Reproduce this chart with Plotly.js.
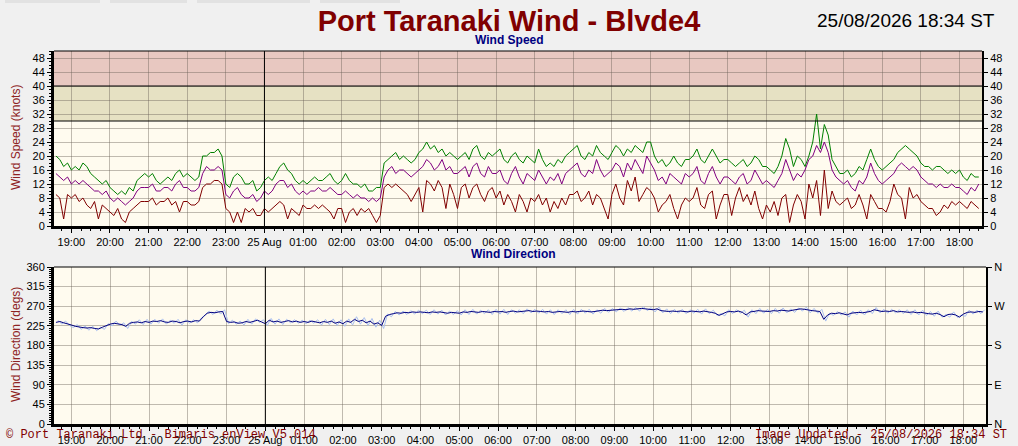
<!DOCTYPE html>
<html>
<head>
<meta charset="utf-8">
<script src="https://cdn.plot.ly/plotly-3.0.1.min.js"></script>
<style>
  html, body { margin: 0; padding: 0; background: #f0f0f0; }
  #chart { width: 1018px; height: 446px; }
</style>
</head>
<body>
<div id="chart"></div>
<script>
// 6 minute samples, 24/08 18:36 .. 25/08 18:30 (one row per hour)
var gust = [
  20, 19, 17, 18,
  16, 17, 16, 18, 17, 15, 14, 13, 12, 13,
  11, 10, 9, 10, 9, 11, 10, 13, 14, 15,
  14, 15, 13, 12, 13, 14, 13, 15, 16, 14,
  15, 14, 13, 14, 20, 20, 21, 21, 22, 20,
  12, 11, 14, 15, 14, 12, 12, 13, 10, 11,
  13, 14, 13, 15, 17, 18, 16, 15, 13, 12,
  13, 12, 13, 14, 13, 13, 14, 15, 13, 12,
  13, 15, 13, 12, 12, 11, 12, 10, 10, 11,
  11, 18, 19, 20, 21, 19, 20, 19, 18, 19,
  21, 22, 24, 22, 23, 21, 22, 20, 21, 20,
  19, 20, 21, 19, 22, 23, 20, 19, 21, 20,
  21, 22, 19, 18, 20, 21, 19, 18, 20, 19,
  18, 22, 19, 17, 18, 17, 19, 18, 20, 21,
  22, 23, 20, 19, 21, 20, 23, 21, 20, 19,
  21, 23, 22, 20, 22, 21, 23, 22, 21, 24,
  24, 20, 18, 19, 17, 18, 20, 18, 17, 19,
  19, 20, 22, 19, 18, 20, 22, 20, 18, 19,
  19, 18, 17, 18, 19, 17, 18, 20, 19, 17,
  17, 16, 15, 17, 20, 25, 22, 17, 20, 19,
  17, 20, 24, 32, 22, 29, 26, 19, 17, 15,
  15, 16, 14, 15, 17, 16, 19, 22, 19, 17,
  16, 17, 18, 19, 21, 22, 23, 22, 21, 20,
  18, 17, 17, 16, 17, 17, 16, 15, 16, 15,
  16, 14, 13, 15, 14, 14
];
var average = [
  15, 14, 13, 14,
  12, 13, 12, 13, 12, 11, 10, 10, 9, 10,
  8, 7, 8, 7, 6, 7, 8, 10, 11, 11,
  11, 12, 10, 10, 11, 11, 10, 12, 13, 11,
  11, 10, 10, 11, 15, 17, 16, 16, 17, 16,
  9, 8, 10, 11, 9, 8, 8, 9, 7, 8,
  10, 9, 10, 12, 13, 13, 11, 12, 10, 9,
  10, 9, 10, 10, 11, 10, 10, 11, 10, 9,
  9, 10, 9, 8, 9, 8, 8, 7, 8, 7,
  8, 14, 16, 17, 15, 16, 16, 15, 14, 15,
  16, 17, 19, 18, 16, 17, 19, 16, 17, 15,
  15, 16, 17, 14, 17, 18, 15, 14, 17, 15,
  15, 16, 13, 12, 15, 17, 14, 12, 15, 14,
  13, 16, 14, 12, 14, 13, 15, 12, 15, 16,
  17, 18, 15, 14, 16, 15, 19, 16, 14, 15,
  16, 18, 17, 14, 18, 16, 19, 17, 15, 20,
  18, 16, 13, 14, 12, 15, 14, 13, 12, 15,
  14, 15, 17, 13, 12, 15, 17, 14, 12, 14,
  14, 13, 12, 14, 15, 12, 13, 16, 14, 12,
  13, 12, 11, 13, 15, 19, 16, 13, 15, 14,
  16, 19, 20, 23, 21, 24, 21, 16, 14, 13,
  12, 13, 11, 10, 13, 12, 14, 18, 15, 13,
  12, 13, 14, 15, 17, 18, 17, 16, 17, 16,
  14, 13, 12, 12, 11, 12, 11, 11, 12, 11,
  11, 10, 9, 11, 10, 12
];
var lull = [
  9, 8, 2, 9,
  8, 9, 7, 8, 6, 5, 7, 2, 6, 5,
  4, 3, 5, 2, 1, 4, 5, 6, 7, 7,
  7, 8, 6, 7, 7, 8, 6, 7, 4, 7,
  7, 6, 6, 7, 11, 12, 12, 13, 13, 12,
  5, 4, 1, 4, 1, 5, 4, 5, 3, 3,
  5, 4, 5, 6, 7, 6, 2, 5, 4, 3,
  6, 5, 5, 6, 5, 6, 5, 4, 2, 5,
  5, 1, 4, 5, 3, 5, 4, 5, 3, 1,
  3, 11, 12, 11, 12, 11, 10, 9, 7, 9,
  11, 4, 13, 12, 10, 13, 11, 5, 12, 9,
  5, 11, 12, 8, 11, 12, 9, 7, 10, 11,
  8, 10, 6, 9, 7, 4, 9, 7, 4, 8,
  7, 9, 6, 8, 4, 7, 5, 8, 6, 9,
  9, 10, 7, 8, 10, 6, 9, 8, 5, 2,
  9, 12, 8, 6, 13, 10, 14, 7, 9, 11,
  10, 8, 4, 6, 7, 9, 5, 2, 6, 8,
  7, 8, 11, 6, 5, 9, 10, 2, 6, 9,
  9, 3, 8, 11, 7, 9, 6, 10, 5, 2,
  6, 4, 7, 3, 8, 9, 1, 6, 9, 7,
  2, 12, 8, 13, 3, 16, 5, 10, 7, 6,
  7, 8, 5, 6, 9, 6, 2, 9, 7, 5,
  5, 4, 7, 12, 9, 8, 2, 11, 8, 9,
  7, 6, 5, 5, 3, 4, 6, 5, 7, 6,
  7, 6, 5, 7, 6, 5
];
var dirAvg = [
  233, 235, 232, 230,
  227, 224, 222, 221, 220, 221, 219, 218, 222, 226,
  229, 231, 230, 228, 224, 231, 233, 234, 232, 235,
  233, 236, 235, 237, 234, 233, 236, 235, 232, 235,
  236, 234, 237, 236, 246, 254, 256, 255, 257, 258,
  235, 233, 234, 231, 232, 235, 233, 236, 238, 234,
  230, 238, 234, 236, 233, 235, 237, 234, 236, 233,
  235, 233, 236, 234, 232, 235, 233, 236, 231, 234,
  230, 236, 233, 240, 235, 238, 232, 236, 229, 232,
  226, 247, 251, 253, 255, 254, 256, 255, 257, 256,
  257, 256, 255, 257, 256, 257, 255, 254, 256, 255,
  254, 257, 256, 258, 257, 256, 258, 257, 256, 258,
  257, 258, 256, 258, 259, 257, 258, 259, 260, 258,
  259, 258, 257, 258, 256, 257, 258, 257, 256, 258,
  257, 258, 259, 258, 257, 258, 259, 261, 260, 261,
  261, 262, 263, 262, 264, 263, 264, 265, 264, 263,
  262, 264, 260, 259, 258, 259, 258, 259, 258, 257,
  259, 258, 257, 259, 258, 256, 254, 249, 253, 257,
  258, 257, 259, 256, 250, 257, 258, 260, 259, 258,
  258, 260, 259, 261, 260, 259, 261, 262, 264, 263,
  261, 260, 259, 258, 240, 250, 254, 253, 255, 252,
  250, 254, 255, 256, 255, 257, 258, 262, 260, 258,
  259, 258, 260, 257, 258, 257, 256, 257, 255, 256,
  254, 253, 252, 254, 251, 246, 251, 252, 250, 245,
  252, 256, 257, 256, 258, 257
];
// raw direction samples, 3 minutes after each average sample
var dirRaw = [
  238, 229, 236, 226,
  221, 228, 217, 225, 215, 224, 214, 222, 217, 230,
  225, 236, 226, 232, 219, 235, 229, 239, 228, 240,
  229, 240, 231, 241, 229, 238, 231, 240, 227, 239,
  231, 239, 232, 243, 250, 259, 251, 261, 252, 262,
  230, 238, 229, 236, 227, 240, 229, 241, 233, 239,
  226, 242, 229, 241, 228, 240, 232, 239, 231, 238,
  230, 238, 231, 239, 227, 240, 228, 241, 226, 239,
  224, 241, 227, 246, 229, 244, 226, 242, 222, 238,
  219, 252, 246, 258, 250, 259, 251, 260, 252, 261,
  253, 261, 251, 262, 252, 261, 250, 259, 251, 260,
  250, 262, 251, 263, 252, 261, 253, 262, 251, 263,
  252, 263, 251, 262, 254, 262, 253, 264, 255, 263,
  254, 263, 252, 262, 251, 262, 253, 262, 251, 263,
  252, 263, 254, 263, 252, 262, 254, 265, 256, 265,
  257, 266, 258, 267, 259, 267, 259, 269, 260, 267,
  257, 268, 255, 264, 253, 263, 254, 263, 253, 262,
  254, 263, 252, 264, 253, 261, 249, 253, 248, 262,
  253, 262, 254, 261, 245, 262, 253, 265, 254, 263,
  253, 265, 254, 266, 255, 264, 256, 266, 259, 268,
  255, 265, 254, 263, 236, 254, 249, 258, 250, 257,
  245, 259, 250, 261, 250, 262, 253, 267, 255, 263,
  254, 263, 255, 262, 253, 262, 251, 262, 250, 261,
  249, 258, 247, 259, 245, 251, 245, 257, 244, 250,
  247, 261, 252, 261, 253, 262
];
var hourLabels = ['19:00', '20:00', '21:00', '22:00', '23:00', '25 Aug', '01:00', '02:00',
  '03:00', '04:00', '05:00', '06:00', '07:00', '08:00', '09:00', '10:00', '11:00',
  '12:00', '13:00', '14:00', '15:00', '16:00', '17:00', '18:00'];
var speedTicks = [0, 4, 8, 12, 16, 20, 24, 28, 32, 36, 40, 44, 48];
var dirTicks = [0, 45, 90, 135, 180, 225, 270, 315, 360];
var compassTicks = [0, 90, 180, 270, 360];
var compassLabels = ['N', 'E', 'S', 'W', 'N'];

function pad(n) { return (n < 10 ? '0' : '') + n; }
// minutes counted from 24/08/2026 00:00
function stamp(m) {
  var day = 24 + Math.floor(m / 1440), mm = m % 1440;
  return '2026-08-' + day + ' ' + pad(Math.floor(mm / 60)) + ':' + pad(mm % 60);
}
var start = 18 * 60 + 36, step = 6;
var times = gust.map(function (v, i) { return stamp(start + i * step); });
var rawTimes = dirRaw.map(function (v, i) { return stamp(start + 3 + i * step); });
var hourTicks = hourLabels.map(function (v, i) { return stamp(19 * 60 + i * 60); });
var midnight = stamp(24 * 60);

var W = 1018, H = 446;
var fx = function (px) { return px / W; };
var fy = function (px) { return 1 - px / H; };

var font = 'Liberation Sans, Arial, sans-serif';
var tickFont = { family: font, size: 11, color: '#000' };
var grid = 'rgba(105,95,85,0.42)';
var xRange = [stamp(18 * 60 + 33), stamp(24 * 60 + 18 * 60 + 35)];

function xAxis(dom, anchor) {
  return {
    type: 'date', domain: dom, anchor: anchor, range: xRange,
    tickmode: 'array', tickvals: hourTicks, ticktext: hourLabels,
    ticks: 'outside', ticklen: 4, tickcolor: '#000', tickfont: tickFont,
    showgrid: true, gridcolor: grid, gridwidth: 1,
    showline: true, linecolor: '#000', linewidth: 3,
    minor: { tickmode: 'linear', tick0: hourTicks[0], dtick: 15 * 60 * 1000,
      ticks: 'outside', ticklen: 2, tickcolor: '#000', showgrid: false },
    zeroline: false, fixedrange: true
  };
}

function rightAxis(over, anchor, dom, range, vals, text) {
  return {
    domain: dom, anchor: anchor, overlaying: over, side: 'right', range: range,
    tickmode: 'array', tickvals: vals, ticktext: text, ticks: 'outside', ticklen: 4,
    tickcolor: '#000', tickfont: tickFont,
    showgrid: false, showline: true, linecolor: '#000', linewidth: 2,
    zeroline: false, fixedrange: true
  };
}

var data = [
  { x: times, y: gust, type: 'scatter', mode: 'lines', name: 'Gust',
    line: { color: '#008000', width: 1 }, xaxis: 'x', yaxis: 'y' },
  { x: times, y: average, type: 'scatter', mode: 'lines', name: 'Average',
    line: { color: '#800080', width: 1 }, xaxis: 'x', yaxis: 'y' },
  { x: times, y: lull, type: 'scatter', mode: 'lines', name: 'Lull',
    line: { color: '#800000', width: 1 }, xaxis: 'x', yaxis: 'y' },
  { x: rawTimes, y: dirRaw, type: 'scatter', mode: 'lines', name: 'Direction',
    line: { color: '#a9bff0', width: 1 }, xaxis: 'x2', yaxis: 'y3' },
  { x: times, y: dirAvg, type: 'scatter', mode: 'lines', name: 'Avg direction',
    line: { color: '#000080', width: 1 }, xaxis: 'x2', yaxis: 'y3' },
  // invisible traces so the right-hand axes are drawn
  { x: [times[0]], y: [null], type: 'scatter', mode: 'lines', xaxis: 'x', yaxis: 'y2',
    showlegend: false },
  { x: [times[0]], y: [null], type: 'scatter', mode: 'lines', xaxis: 'x2', yaxis: 'y4',
    showlegend: false }
];

var layout = {
  width: W, height: H,
  margin: { l: 0, r: 0, t: 0, b: 0 },
  paper_bgcolor: '#f0f0f0', plot_bgcolor: '#fffbef',
  showlegend: false, hovermode: false,
  font: { family: font },
  title: { text: 'Port Taranaki Wind - Blvde4', x: 0.5, xanchor: 'center',
    y: fy(21), yanchor: 'middle',
    font: { family: font, size: 29, color: '#800000', weight: 'bold' } },
  xaxis: xAxis([fx(54), fx(982)], 'y'),
  xaxis2: xAxis([fx(54), fx(986)], 'y3'),
  yaxis: {
    domain: [fy(226), fy(51)], anchor: 'x', range: [0, 50],
    tickmode: 'array', tickvals: speedTicks, ticks: 'outside', ticklen: 4,
    tickcolor: '#000', tickfont: tickFont,
    showgrid: true, gridcolor: grid, showline: true, linecolor: '#000', linewidth: 3,
    minor: { dtick: 1, ticks: 'outside', ticklen: 2, tickcolor: '#000', showgrid: false },
    zeroline: false, fixedrange: true
  },
  yaxis2: rightAxis('y', 'x', [fy(226), fy(51)], [0, 50], speedTicks, null),
  yaxis3: {
    domain: [fy(424), fy(267)], anchor: 'x2', range: [0, 360],
    tickmode: 'array', tickvals: dirTicks, ticks: 'outside', ticklen: 4,
    tickcolor: '#000', tickfont: tickFont,
    showgrid: true, gridcolor: grid, showline: true, linecolor: '#000', linewidth: 3,
    minor: { dtick: 5, ticks: 'outside', ticklen: 2, tickcolor: '#000', showgrid: false },
    zeroline: false, fixedrange: true
  },
  yaxis4: rightAxis('y3', 'x2', [fy(424), fy(267)], [0, 360], compassTicks, compassLabels),
  shapes: [
    // wind speed bands
    { type: 'rect', layer: 'below', xref: 'x domain', yref: 'y', x0: 0, x1: 1, y0: 30, y1: 40,
      fillcolor: '#e6e1c3', line: { width: 0 } },
    { type: 'rect', layer: 'below', xref: 'x domain', yref: 'y', x0: 0, x1: 1, y0: 40, y1: 50,
      fillcolor: '#e8c8c1', line: { width: 0 } },
    { type: 'line', xref: 'x domain', yref: 'y', x0: 0, x1: 1, y0: 30, y1: 30,
      line: { color: '#000', width: 1 } },
    { type: 'line', xref: 'x domain', yref: 'y', x0: 0, x1: 1, y0: 40, y1: 40,
      line: { color: '#000', width: 1 } },
    // day change
    { type: 'line', xref: 'x', yref: 'y domain', x0: midnight, x1: midnight,
      y0: 0, y1: 1, line: { color: '#000', width: 1 } },
    { type: 'line', xref: 'x2', yref: 'y3 domain', x0: midnight, x1: midnight,
      y0: 0, y1: 1, line: { color: '#000', width: 1 } },
    // top borders
    { type: 'line', xref: 'x domain', yref: 'y domain', x0: 0, x1: 1, y0: 1, y1: 1,
      line: { color: '#000', width: 1 } },
    { type: 'line', xref: 'x2 domain', yref: 'y3 domain', x0: 0, x1: 1, y0: 1, y1: 1,
      line: { color: '#000', width: 1 } },
    // faint tabs at the top edge
    { type: 'rect', xref: 'paper', yref: 'paper', x0: fx(5), x1: fx(100), y0: fy(3), y1: 1,
      fillcolor: '#e2e2e2', line: { width: 0 } },
    { type: 'rect', xref: 'paper', yref: 'paper', x0: fx(110), x1: fx(187), y0: fy(3), y1: 1,
      fillcolor: '#e2e2e2', line: { width: 0 } },
    { type: 'rect', xref: 'paper', yref: 'paper', x0: fx(197), x1: fx(310), y0: fy(3), y1: 1,
      fillcolor: '#e2e2e2', line: { width: 0 } },
    { type: 'rect', xref: 'paper', yref: 'paper', x0: fx(320), x1: fx(400), y0: fy(3), y1: 1,
      fillcolor: '#e2e2e2', line: { width: 0 } }
  ],
  annotations: [
    { text: '25/08/2026 18:34 ST', xref: 'paper', yref: 'paper', x: fx(997), y: fy(20),
      xanchor: 'right', yanchor: 'middle', showarrow: false,
      font: { family: font, size: 19, color: '#000' } },
    { text: '<b>Wind Speed</b>', xref: 'paper', yref: 'paper', x: fx(509), y: fy(40),
      xanchor: 'center', yanchor: 'middle', showarrow: false,
      font: { family: font, size: 12, color: '#000080' } },
    { text: '<b>Wind Direction</b>', xref: 'paper', yref: 'paper', x: fx(513), y: fy(254),
      xanchor: 'center', yanchor: 'middle', showarrow: false,
      font: { family: font, size: 12, color: '#000080' } },
    { text: 'Wind Speed (knots)', xref: 'paper', yref: 'paper', x: fx(16), y: fy(138),
      xanchor: 'center', yanchor: 'middle', textangle: -90, showarrow: false,
      font: { family: font, size: 12, color: '#8e2323' } },
    { text: 'Wind Direction (degs)', xref: 'paper', yref: 'paper', x: fx(16), y: fy(345),
      xanchor: 'center', yanchor: 'middle', textangle: -90, showarrow: false,
      font: { family: font, size: 12, color: '#8e2323' } },
    { text: '\u00a9 Port Taranaki Ltd - Bimaris enView V5.014', xref: 'paper', yref: 'paper',
      x: fx(4), y: fy(435), xanchor: 'left', yanchor: 'middle', showarrow: false,
      font: { family: 'Liberation Mono, Courier New, monospace', size: 12, color: '#800000' } },
    { text: 'Image Updated - 25/08/2026 18:34 ST', xref: 'paper', yref: 'paper',
      x: fx(1009), y: fy(435), xanchor: 'right', yanchor: 'middle', showarrow: false,
      font: { family: 'Liberation Mono, Courier New, monospace', size: 12, color: '#800000' } }
  ]
};

Plotly.newPlot('chart', data, layout, { staticPlot: true, displayModeBar: false });
</script>
</body>
</html>
